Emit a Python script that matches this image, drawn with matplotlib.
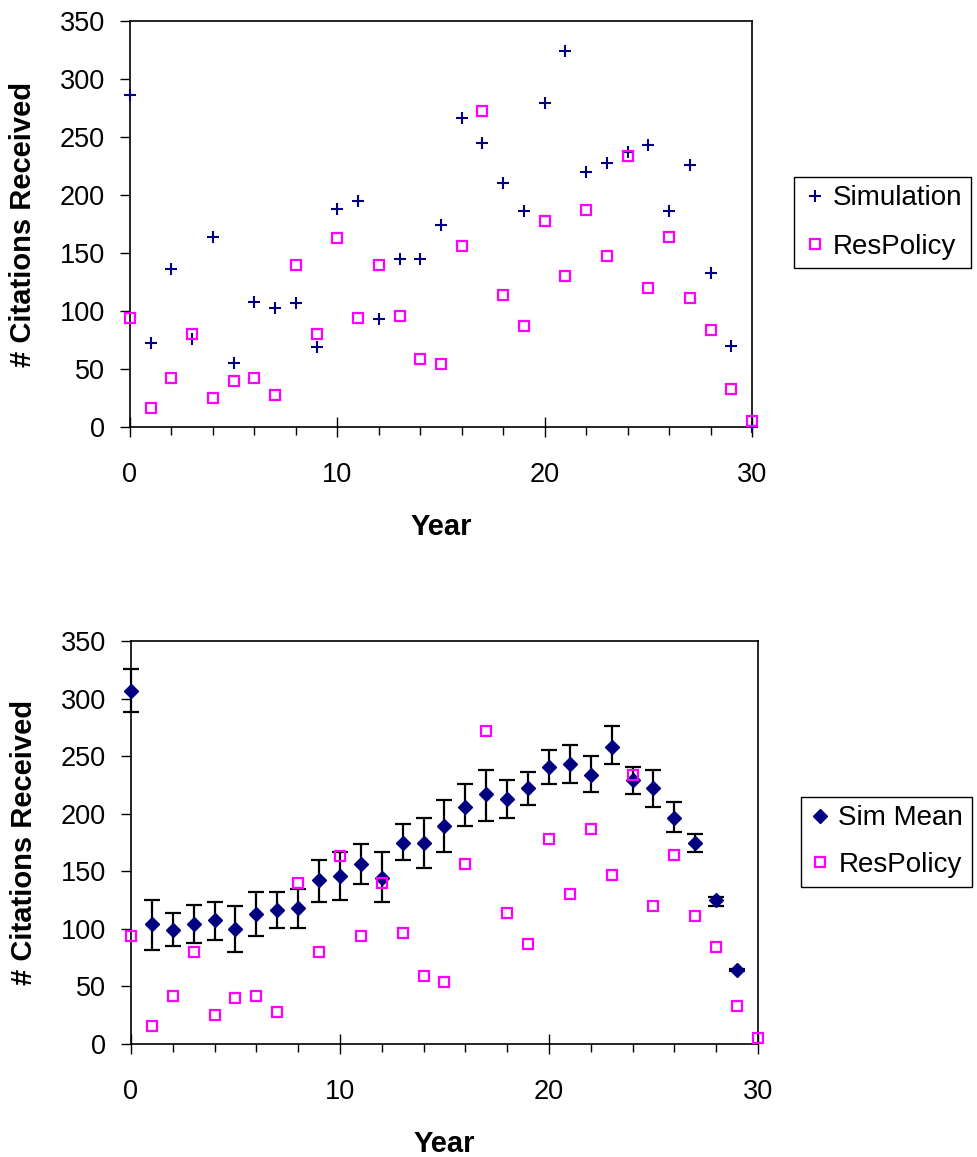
import matplotlib
matplotlib.use('Agg')
import matplotlib.pyplot as plt
import numpy as np

plt.rcParams['font.family'] = ['Liberation Sans', 'DejaVu Sans']

# Data
years = list(range(0, 31))
simulation = [286, 72, 136, 76, 164, 55, 108, 103, 107, 69, 188, 195, 93, 145, 145,
              174, 266, 245, 210, 186, 279, 324, 220, 228, 237, 243, 186, 226, 133, 70, 0]
respolicy = [94, 16, 42, 80, 25, 40, 42, 28, 140, 80, 163, 94, 140, 96, 59,
             54, 156, 272, 114, 87, 178, 130, 187, 147, 234, 120, 164, 111, 84, 33, 5]

mean_years = list(range(0, 30))
sim_mean = [307, 104, 99, 104, 108, 100, 113, 116, 118, 142, 146, 156, 144, 175, 175,
            189, 206, 217, 213, 222, 241, 243, 234, 258, 229, 222, 196, 175, 125, 64]
sim_upper = [326, 125, 114, 121, 123, 120, 132, 132, 135, 160, 167, 174, 167, 191, 196,
             212, 226, 238, 229, 236, 255, 260, 250, 276, 241, 238, 210, 182, 128, 65]
sim_lower = [288, 82, 85, 88, 90, 80, 94, 101, 101, 123, 125, 139, 123, 160, 153,
             167, 189, 194, 196, 208, 226, 227, 219, 243, 217, 206, 184, 167, 120, 63]

navy = '#000080'
magenta = '#FF00FF'
W, H = 978, 1157

fig = plt.figure(figsize=(W / 100, H / 100), dpi=100)
ax1 = fig.add_axes([130 / W, 1 - 427 / H, 622 / W, 406 / H])
ax2 = fig.add_axes([131 / W, 1 - 1044 / H, 627 / W, 403 / H])


def style_axes(ax):
    ax.set_xlim(0, 30)
    ax.set_ylim(0, 350)
    ax.set_xticks([0, 10, 20, 30])
    ax.set_xticks(np.arange(0, 31, 2), minor=True)
    ax.set_yticks(np.arange(0, 351, 50))
    for s in ax.spines.values():
        s.set_linewidth(1.2)
        s.set_color('black')
    ax.tick_params(axis='y', direction='out', length=7.2, width=1.0, pad=11, labelsize=19.5)
    ax.tick_params(axis='x', which='major', direction='inout', length=15, width=1.0,
                   pad=18, labelsize=19.5)
    ax.tick_params(axis='x', which='minor', direction='out', length=5.8, width=1.0)
    ax.set_xlabel('Year', fontsize=21, fontweight='bold', labelpad=18)
    ax.set_ylabel('# Citations Received', fontsize=21, fontweight='bold', labelpad=16)


# Top chart
ax1.plot(years, simulation, linestyle='none', marker='+', markersize=9, mew=1.5,
         color=navy, label='Simulation', clip_on=False, zorder=3)
ax1.plot(years, respolicy, linestyle='none', marker='s', markersize=6.8, mew=1.6,
         mfc='none', mec=magenta, label='ResPolicy', clip_on=False, zorder=3)
style_axes(ax1)
ax1.legend(loc='upper left', bbox_to_anchor=(794 / W, 1 - 177 / H),
           bbox_transform=fig.transFigure, borderaxespad=0, fontsize=20,
           frameon=True, fancybox=False, edgecolor='black', framealpha=1,
           handlelength=0.9, handletextpad=0.2, borderpad=0.3, labelspacing=0.8)
ax1.get_legend().get_frame().set_linewidth(1.0)

# Bottom chart
yerr = [np.array(sim_mean) - np.array(sim_lower), np.array(sim_upper) - np.array(sim_mean)]
ax2.errorbar(mean_years, sim_mean, yerr=yerr, fmt='none', ecolor='black', elinewidth=1.6,
             capsize=6, capthick=1.6, clip_on=False, zorder=2)
ax2.plot(mean_years, sim_mean, linestyle='none', marker='D', markersize=7.2,
         color=navy, label='Sim Mean', clip_on=False, zorder=3)
ax2.plot(years, respolicy, linestyle='none', marker='s', markersize=6.8, mew=1.6,
         mfc='none', mec=magenta, label='ResPolicy', clip_on=False, zorder=4)
style_axes(ax2)
ax2.legend(loc='upper left', bbox_to_anchor=(801 / W, 1 - 797 / H),
           bbox_transform=fig.transFigure, borderaxespad=0, fontsize=20,
           frameon=True, fancybox=False, edgecolor='black', framealpha=1,
           handlelength=0.8, handletextpad=0.25, borderpad=0.3, labelspacing=0.75)
ax2.get_legend().get_frame().set_linewidth(1.0)

fig.savefig('out.png', dpi=100)
